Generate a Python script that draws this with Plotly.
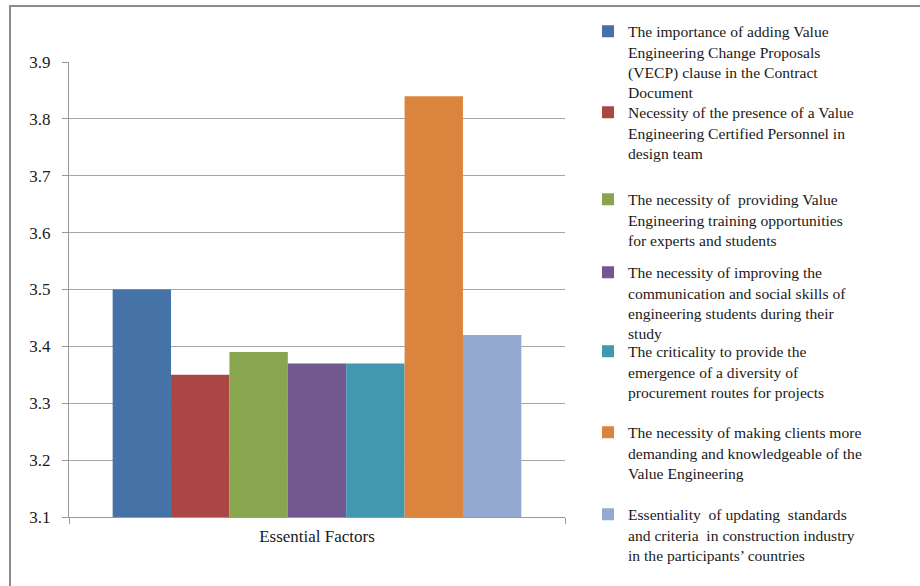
import plotly.graph_objects as go

category = ["Essential Factors"]
labels = [
    "The importance of adding Value<br>Engineering Change Proposals<br>(VECP) clause in the Contract<br>Document",
    "Necessity of the presence of a Value<br>Engineering Certified Personnel in<br>design team",
    "The necessity of  providing Value<br>Engineering training opportunities<br>for experts and students",
    "The necessity of improving the<br>communication and social skills of<br>engineering students during their<br>study",
    "The criticality to provide the<br>emergence of a diversity of<br>procurement routes for projects",
    "The necessity of making clients more<br>demanding and knowledgeable of the<br>Value Engineering",
    "Essentiality  of updating  standards<br>and criteria  in construction industry<br>in the participants\u2019 countries",
]
values = [3.50, 3.35, 3.39, 3.37, 3.37, 3.84, 3.42]
colors = ["#4572A7", "#AA4643", "#89A54E", "#71588F", "#4198AF", "#DB843D", "#93A9CF"]
# vertical pixel position of the first text line of each legend entry
legend_line_px = [32, 113, 200, 273, 352, 433, 515]

W, H = 920, 586
ml, mr, mt, mb = 69, 355, 62, 69
pw, ph = W - ml - mr, H - mt - mb
font = "Liberation Serif, Times New Roman, serif"
lfs = 15.6

fig = go.Figure()
legend_layouts = {}
for i, (lab, v, c, lp) in enumerate(zip(labels, values, colors, legend_line_px)):
    key = "legend" if i == 0 else f"legend{i + 1}"
    fig.add_trace(go.Bar(x=category, y=[v], name=lab, legend=key,
                         marker=dict(color=c, line=dict(width=0))))
    legend_layouts[key] = dict(
        x=(588 - ml) / pw, xanchor="left",
        y=(H - mb - (lp - 17.5)) / ph, yanchor="top",
        valign="top",
        font=dict(family=font, size=lfs, color="#1a1a1a"),
        bgcolor="rgba(0,0,0,0)", borderwidth=0,
    )

fig.update_layout(
    width=W, height=H,
    margin=dict(l=ml, r=mr, t=mt, b=mb),
    paper_bgcolor="white", plot_bgcolor="white",
    barmode="group", bargap=0.176, bargroupgap=0,
    font=dict(family=font, size=17, color="#1a1a1a"),
    showlegend=True,
    xaxis=dict(
        range=[-0.5, 0.5], showline=True, linecolor="#999", linewidth=1,
        ticks="outside", tickson="boundaries", ticklen=6, tickcolor="#999",
        showgrid=False, ticklabelstandoff=4,
        tickfont=dict(family=font, size=17, color="#1a1a1a"),
    ),
    yaxis=dict(
        range=[3.1, 3.9], dtick=0.1, tick0=3.1, tickformat=".1f",
        showline=True, linecolor="#999", linewidth=1,
        ticks="outside", ticklen=6, tickcolor="#999",
        showgrid=True, gridcolor="#a6a6a6", gridwidth=1,
        zeroline=False, ticklabelstandoff=8,
        tickfont=dict(family=font, size=17, color="#1a1a1a"),
    ),
    shapes=[dict(
        type="rect", xref="paper", yref="paper",
        x0=(10 - ml) / pw, x1=(W + 20 - ml) / pw,
        y0=(H - mb - (H + 20)) / ph, y1=(H - mb - 6) / ph,
        line=dict(color="#8c8c8c", width=2), fillcolor="rgba(0,0,0,0)", layer="below",
    )],
    **legend_layouts,
)

fig.write_html("out.html")
